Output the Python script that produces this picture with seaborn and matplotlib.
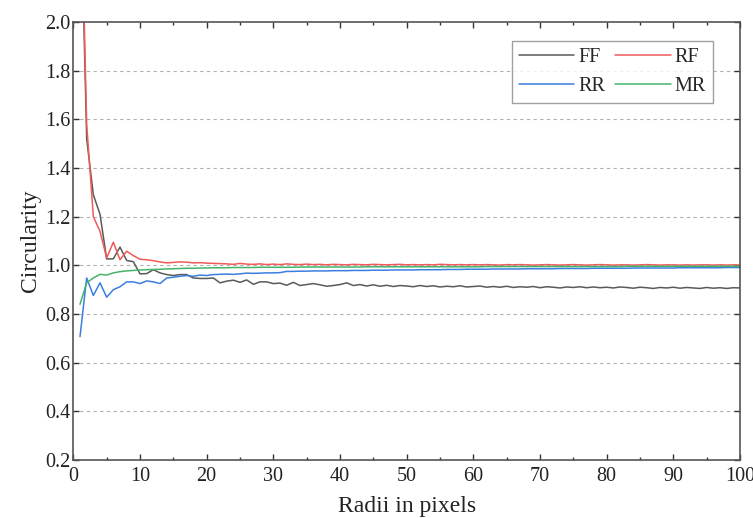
import matplotlib
matplotlib.use("Agg")
import matplotlib.pyplot as plt
from matplotlib.ticker import MultipleLocator, FormatStrFormatter
from matplotlib.lines import Line2D
import seaborn as sns
import pandas as pd

radii = list(range(1, 101))

ff = [2.65, 1.52, 1.29, 1.21, 1.026, 1.027, 1.075, 1.020, 1.015, 0.965,
      0.966, 0.982, 0.969, 0.962, 0.958, 0.962, 0.962, 0.948, 0.946, 0.946,
      0.948, 0.928, 0.935, 0.939, 0.930, 0.940, 0.922, 0.932, 0.932, 0.925,
      0.927, 0.918, 0.930, 0.917, 0.921, 0.925, 0.920, 0.914, 0.917, 0.921,
      0.928, 0.917, 0.921, 0.915, 0.920, 0.914, 0.918, 0.913, 0.917, 0.915,
      0.912, 0.917, 0.913, 0.916, 0.911, 0.914, 0.912, 0.916, 0.911, 0.913,
      0.915, 0.910, 0.913, 0.910, 0.914, 0.909, 0.912, 0.910, 0.913, 0.908,
      0.912, 0.910, 0.907, 0.911, 0.909, 0.912, 0.908, 0.911, 0.908, 0.910,
      0.907, 0.911, 0.909, 0.906, 0.910, 0.908, 0.905, 0.909, 0.907, 0.910,
      0.906, 0.909, 0.907, 0.905, 0.909, 0.906, 0.908, 0.905, 0.908, 0.907]

rf = [2.75, 1.58, 1.20, 1.14, 1.030, 1.095, 1.023, 1.058, 1.040, 1.025,
      1.023, 1.019, 1.014, 1.010, 1.012, 1.014, 1.013, 1.010, 1.011, 1.009,
      1.008, 1.007, 1.006, 1.004, 1.008, 1.005, 1.004, 1.006, 1.003, 1.005,
      1.003, 1.006, 1.004, 1.003, 1.005, 1.003, 1.004, 1.002, 1.004, 1.003,
      1.002, 1.004, 1.003, 1.002, 1.004, 1.003, 1.002, 1.003, 1.004, 1.002,
      1.003, 1.002, 1.003, 1.002, 1.004, 1.003, 1.002, 1.003, 1.002, 1.003,
      1.002, 1.003, 1.002, 1.001, 1.003, 1.002, 1.003, 1.002, 1.001, 1.002,
      1.003, 1.002, 1.001, 1.002, 1.003, 1.002, 1.001, 1.002, 1.003, 1.002,
      1.001, 1.002, 1.002, 1.001, 1.002, 1.003, 1.002, 1.001, 1.002, 1.002,
      1.001, 1.002, 1.001, 1.002, 1.002, 1.001, 1.002, 1.001, 1.002, 1.001]

rr = [0.707, 0.948, 0.876, 0.928, 0.869, 0.900, 0.912, 0.932, 0.932, 0.925,
      0.936, 0.932, 0.925, 0.948, 0.951, 0.955, 0.958, 0.955, 0.960, 0.958,
      0.962, 0.963, 0.964, 0.963, 0.965, 0.968, 0.967, 0.968, 0.969, 0.969,
      0.970, 0.975, 0.975, 0.976, 0.976, 0.977, 0.977, 0.977, 0.978, 0.978,
      0.978, 0.979, 0.979, 0.979, 0.980, 0.980, 0.980, 0.981, 0.981, 0.981,
      0.981, 0.982, 0.982, 0.982, 0.982, 0.983, 0.983, 0.983, 0.984, 0.984,
      0.984, 0.984, 0.985, 0.985, 0.985, 0.985, 0.985, 0.986, 0.986, 0.986,
      0.986, 0.986, 0.987, 0.987, 0.987, 0.987, 0.987, 0.988, 0.988, 0.988,
      0.988, 0.988, 0.988, 0.989, 0.989, 0.989, 0.989, 0.989, 0.989, 0.989,
      0.990, 0.990, 0.990, 0.990, 0.990, 0.990, 0.990, 0.991, 0.991, 0.991]

mr = [0.840, 0.928, 0.948, 0.963, 0.960, 0.969, 0.974, 0.977, 0.979, 0.981,
      0.982, 0.983, 0.984, 0.985, 0.986, 0.987, 0.988, 0.988, 0.989, 0.989,
      0.990, 0.990, 0.990, 0.991, 0.991, 0.991, 0.991, 0.992, 0.992, 0.992,
      0.992, 0.992, 0.992, 0.993, 0.993, 0.993, 0.993, 0.993, 0.993, 0.993,
      0.993, 0.993, 0.993, 0.994, 0.994, 0.994, 0.994, 0.994, 0.994, 0.994,
      0.994, 0.994, 0.994, 0.994, 0.994, 0.994, 0.994, 0.994, 0.994, 0.994,
      0.994, 0.995, 0.995, 0.995, 0.995, 0.995, 0.995, 0.995, 0.995, 0.995,
      0.995, 0.995, 0.995, 0.995, 0.995, 0.995, 0.995, 0.995, 0.995, 0.995,
      0.995, 0.995, 0.996, 0.996, 0.996, 0.996, 0.996, 0.996, 0.996, 0.996,
      0.996, 0.996, 0.996, 0.996, 0.996, 0.996, 0.996, 0.996, 0.996, 0.996]

series_names = ["FF", "RF", "RR", "MR"]
series_colors = {"FF": "#5a5a5a", "RF": "#f05a5a", "RR": "#3a7fe0", "MR": "#45b46a"}

frames = []
for name, vals in zip(series_names, [ff, rf, rr, mr]):
    frames.append(pd.DataFrame({"Radii": radii, "Circularity": vals, "Series": name}))
df = pd.concat(frames, ignore_index=True)

sns.set_style("ticks")
plt.rcParams["font.family"] = ["Liberation Serif", "DejaVu Serif"]

fig = plt.figure(figsize=(7.53, 5.18), dpi=100)
ax = fig.add_axes([0.0974, 0.112, 0.8853, 0.8455])

sns.lineplot(data=df, x="Radii", y="Circularity", hue="Series",
             hue_order=series_names, palette=series_colors,
             linewidth=1.1, ax=ax, legend=False, estimator=None)

ax.set_xlim(0, 100)
ax.set_ylim(0.2, 2.0)
ax.xaxis.set_major_locator(MultipleLocator(10))
ax.xaxis.set_minor_locator(MultipleLocator(5))
ax.yaxis.set_major_locator(MultipleLocator(0.2))
ax.yaxis.set_major_formatter(FormatStrFormatter("%.1f"))

for yv in [0.4, 0.6, 0.8, 1.0, 1.2, 1.4, 1.6, 1.8]:
    ax.axhline(yv, color="#b0b0b0", linestyle=(0, (3, 3)), linewidth=0.8, zorder=0)

ax.tick_params(axis="both", which="both", direction="in", top=True, right=True,
               labelsize=14.5, colors="#333333", labelcolor="#222222")
ax.tick_params(which="major", length=4, width=1)
ax.tick_params(which="minor", length=2.5, width=1)
ax.tick_params(axis="x", pad=5)
ax.tick_params(axis="y", pad=2)
for sp in ax.spines.values():
    sp.set_color("#555555")
    sp.set_linewidth(1.2)

ax.set_xlabel("Radii in pixels", fontsize=17, color="#222222", labelpad=7)
ax.set_ylabel("Circularity", fontsize=17, color="#222222", labelpad=3)

order = ["FF", "RR", "RF", "MR"]
handles = [Line2D([0], [0], color=series_colors[n], linewidth=1.1) for n in order]
leg = ax.legend(handles, order, ncol=2, loc="upper right",
                bbox_to_anchor=(0.9595, 0.9566), borderaxespad=0.0,
                fontsize=14.5, frameon=True,
                fancybox=False, edgecolor="#888888", handlelength=2.75,
                columnspacing=0.5, handletextpad=0.2, borderpad=0.35,
                labelspacing=0.5)
leg.get_frame().set_linewidth(1.0)

fig.savefig("out.png", dpi=100)
